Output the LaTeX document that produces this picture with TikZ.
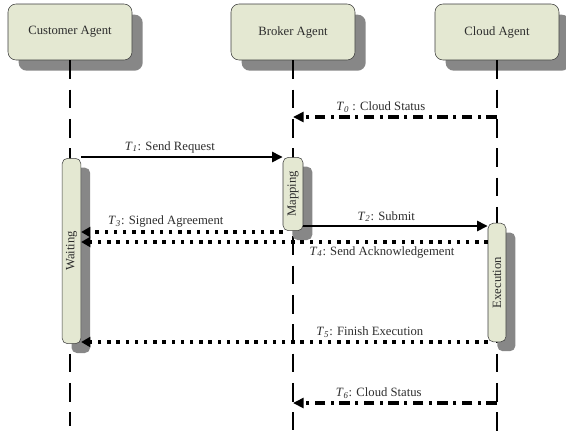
\documentclass[tikz,border=0pt]{standalone}
\usepackage{fontspec}
\setmainfont{Liberation Serif}
\usetikzlibrary{arrows.meta,shadows}

\definecolor{boxfill}{RGB}{228,232,210}
\definecolor{boxline}{RGB}{60,60,60}
\definecolor{shade}{RGB}{135,135,135}
\definecolor{txt}{RGB}{45,45,45}

\newcommand{\tlab}[1]{\textit{T}\textsubscript{\textit{#1}}}

\begin{document}
\begin{tikzpicture}[x=0.75pt, y=-0.75pt, font=\fontsize{9.5}{11}\selectfont, text=txt,
    agent/.style = {draw=boxline, thin, rounded corners=6pt, fill=boxfill, minimum width=93pt, minimum height=42pt,
        drop shadow={shadow xshift=8pt, shadow yshift=-8pt, fill=shade, opacity=1}},
    bar/.style = {draw=boxline, thin, rounded corners=4pt, fill=boxfill, inner sep=0pt,
        drop shadow={shadow xshift=7pt, shadow yshift=-7pt, fill=shade, opacity=1}},
    life/.style = {line width=1.9pt, dash pattern=on 14pt off 8pt},
    req/.style = {-{Triangle[length=8pt, width=7.5pt]}, line width=2.1pt},
    reply/.style = {-{Triangle[length=7pt, width=7.5pt]}, line width=2.5pt, dash pattern=on 2.5pt off 4.4pt},
    status/.style = {-{Triangle[length=8pt, width=7.5pt]}, line width=2.4pt, dash pattern=on 8pt off 4pt on 2.4pt off 4pt},
    lab/.style = {inner sep=2pt}]
    \useasboundingbox (0,0) rectangle (566,433);

    % agents
    \node[agent] (cust) at (70,32) {Customer Agent};
    \node[agent] (brok) at (293,32) {Broker Agent};
    \node[agent] (cloud) at (497,32) {Cloud Agent};

    % life lines
    \draw[life] (cust.south) -- (cust |- 0,426);
    \draw[life] (brok.south) -- (brok |- 0,430);
    \draw[life] (cloud.south) -- (cloud |- 0,433);

    % activations
    \node[bar, minimum width=14pt, minimum height=139pt] (wait) at (71.5,251) {\rotatebox{90}{Waiting}};
    \node[bar, minimum width=15pt, minimum height=55pt] (map) at (293,194) {\rotatebox{90}{Mapping}};
    \node[bar, minimum width=13.5pt, minimum height=89pt] (exec) at (497,282.5) {\rotatebox{90}{Execution}};

    % messages
    \draw[status] (cloud |- 0,117) -- node[lab, above, pos=0.57] {\tlab{0} : Cloud Status} (brok |- 0,117);
    \draw[req] (wait.east |- 0,157) -- node[lab, above, pos=0.44] {\tlab{1}: Send Request} (map.west |- 0,157);
    \draw[req] (map.east |- 0,226) -- node[lab, above, pos=0.45] {\tlab{2}: Submit} (exec.west |- 0,226);
    \draw[reply] (map.west |- 0,232) -- node[lab, above, pos=0.58] {\tlab{3}: Signed Agreement} (wait.east |- 0,232);
    \draw[reply] (exec.west |- 0,242) -- node[lab, below, pos=0.26] {\tlab{4}: Send Acknowledgement} (wait.east |- 0,242);
    \draw[reply] (exec.west |- 0,342) -- node[lab, above, pos=0.29] {\tlab{5}: Finish Execution} (wait.east |- 0,342);
    \draw[status] (cloud |- 0,403) -- node[lab, above, pos=0.58] {\tlab{6}: Cloud Status} (brok |- 0,403);
\end{tikzpicture}
\end{document}
